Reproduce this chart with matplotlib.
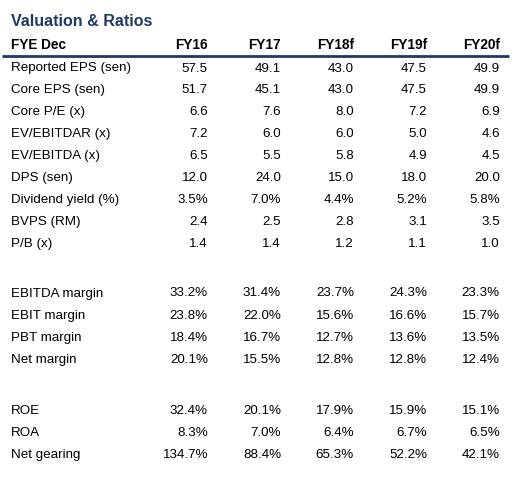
import matplotlib.pyplot as plt

# table contents
years = ['FY16', 'FY17', 'FY18f', 'FY19f', 'FY20f']

valuation_labels = ['Reported EPS (sen)', 'Core EPS (sen)', 'Core P/E (x)', 'EV/EBITDAR (x)',
                    'EV/EBITDA (x)', 'DPS (sen)', 'Dividend yield (%)', 'BVPS (RM)', 'P/B (x)']
valuation_values = [
    ['57.5', '49.1', '43.0', '47.5', '49.9'],
    ['51.7', '45.1', '43.0', '47.5', '49.9'],
    ['6.6', '7.6', '8.0', '7.2', '6.9'],
    ['7.2', '6.0', '6.0', '5.0', '4.6'],
    ['6.5', '5.5', '5.8', '4.9', '4.5'],
    ['12.0', '24.0', '15.0', '18.0', '20.0'],
    ['3.5%', '7.0%', '4.4%', '5.2%', '5.8%'],
    ['2.4', '2.5', '2.8', '3.1', '3.5'],
    ['1.4', '1.4', '1.2', '1.1', '1.0'],
]

margin_labels = ['EBITDA margin', 'EBIT margin', 'PBT margin', 'Net margin']
margin_values = [
    ['33.2%', '31.4%', '23.7%', '24.3%', '23.3%'],
    ['23.8%', '22.0%', '15.6%', '16.6%', '15.7%'],
    ['18.4%', '16.7%', '12.7%', '13.6%', '13.5%'],
    ['20.1%', '15.5%', '12.8%', '12.8%', '12.4%'],
]

return_labels = ['ROE', 'ROA', 'Net gearing']
return_values = [
    ['32.4%', '20.1%', '17.9%', '15.9%', '15.1%'],
    ['8.3%', '7.0%', '6.4%', '6.7%', '6.5%'],
    ['134.7%', '88.4%', '65.3%', '52.2%', '42.1%'],
]

NAVY = '#1f3864'
FONT = ['Liberation Sans', 'DejaVu Sans']
BODY = 9.6

fig = plt.figure(figsize=(5.24, 4.82), dpi=100)
ax = fig.add_axes([0, 0, 1, 1])
ax.set_xlim(0, 524)
ax.set_ylim(482, 0)
ax.axis('off')

col_right = [208, 281, 354, 427, 500]
label_x = 11

# title + header row
ax.text(label_x, 21, 'Valuation & Ratios', fontsize=11.5, fontweight='bold',
        color=NAVY, va='center', ha='left', family=FONT)
ax.text(label_x, 45, 'FYE Dec', fontsize=9.8, fontweight='bold', color='black',
        va='center', ha='left', family=FONT)
for x, yr in zip(col_right, years):
    ax.text(x, 45, yr, fontsize=9.8, fontweight='bold', color='black',
            va='center', ha='right', family=FONT)
ax.plot([2, 509], [55.5, 55.5], color=NAVY, lw=2.0, solid_capstyle='butt')

# (first row y, row step, labels, values)
groups = [(68.5, 21.9, valuation_labels, valuation_values),
          (293.5, 22.2, margin_labels, margin_values),
          (410.5, 22.2, return_labels, return_values)]
for y0, step, labels, values in groups:
    for i, (lab, vals) in enumerate(zip(labels, values)):
        y = y0 + i * step
        ax.text(label_x, y, lab, fontsize=BODY, color='black', va='center',
                ha='left', family=FONT)
        for x, v in zip(col_right, vals):
            ax.text(x, y, v, fontsize=BODY, color='black', va='center',
                    ha='right', family=FONT)

fig.savefig('out.png', dpi=100)
